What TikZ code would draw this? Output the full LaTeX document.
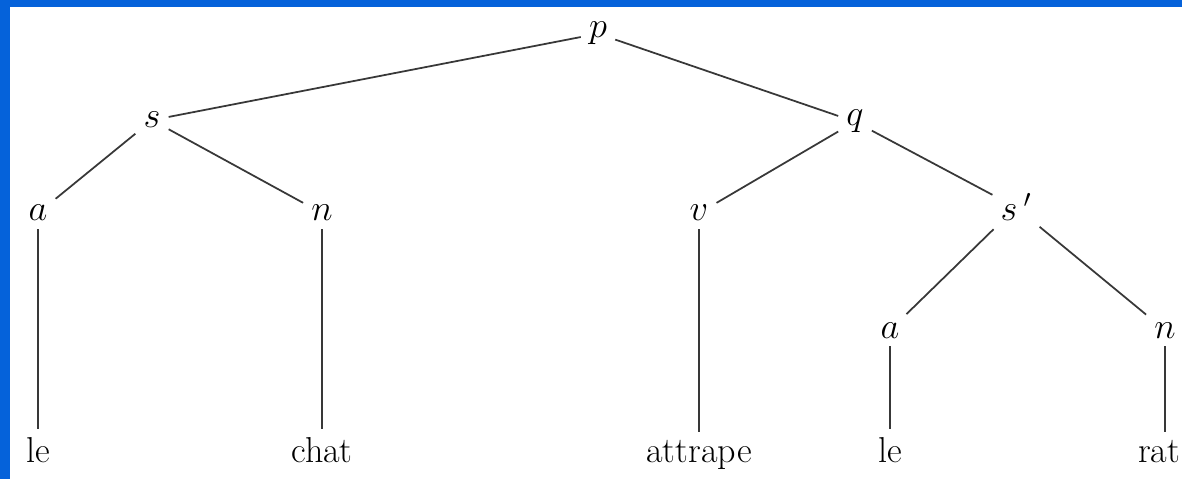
\documentclass[tikz,border=0pt]{standalone}
\usepackage{tikz}
\definecolor{frameblue}{HTML}{0562DA}

\begin{document}
\begin{tikzpicture}[x=0.02cm,y=-0.02cm,
    lab/.style={inner sep=4.5pt,anchor=base,font=\fontsize{20.5}{24}\selectfont},
    br/.style={draw=black!78,line width=1pt}]
  \useasboundingbox (0,0) rectangle (1182,479);
  % blue frame along the top and the left side
  \fill[frameblue] (0,0) rectangle (1182,7);
  \fill[frameblue] (0,0) rectangle (10,479);
  % inner nodes
  \node[lab] (p)  at (598,38)  {$p$};
  \node[lab] (s)  at (152,128) {$s$};
  \node[lab] (q)  at (855,126) {$q$};
  \node[lab] (a)  at (38,221)  {$a$};
  \node[lab] (n)  at (322,221) {$n$};
  \node[lab] (v)  at (699,221) {$v$};
  \node[lab] (sp) at (1016,221) {$s\,'$};
  \node[lab] (a2) at (890,338) {$a$};
  \node[lab] (n2) at (1165,338) {$n$};
  % words
  \node[lab] (le)  at (38,462)  {le};
  \node[lab] (chat) at (322,462) {chat};
  \node[lab] (attr) at (699,462) {attrape};
  \node[lab] (le2) at (890,462) {le};
  \node[lab] (rat) at (1159,462) {rat};
  % branches
  \draw[br] (p) -- (s);
  \draw[br] (p) -- (q);
  \draw[br] (s) -- (a);
  \draw[br] (s) -- (n);
  \draw[br] (q) -- (v);
  \draw[br] (q) -- (sp);
  \draw[br] (sp) -- (a2);
  \draw[br] (sp) -- (n2);
  \draw[br] (a) -- (le);
  \draw[br] (n) -- (chat);
  \draw[br] (v) -- (attr);
  \draw[br] (a2) -- (le2);
  \draw[br] (n2.south) -- (n2.south |- rat.north);
\end{tikzpicture}
\end{document}
